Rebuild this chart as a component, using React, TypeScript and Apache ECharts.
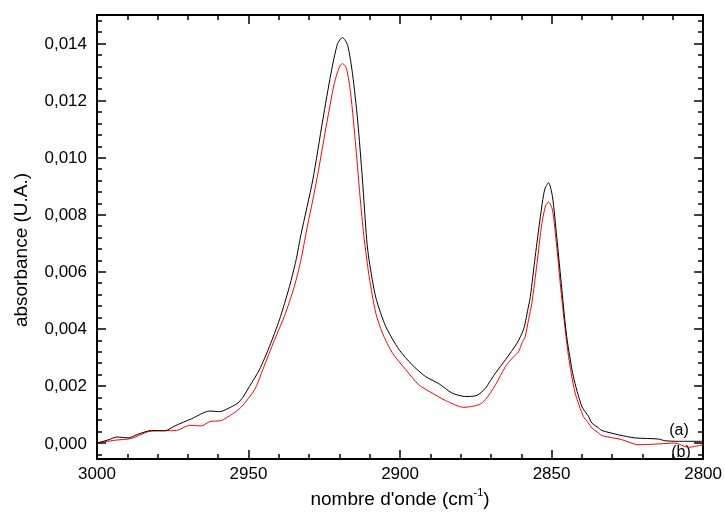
import React, { useEffect, useRef } from 'react';
import * as echarts from 'echarts';

// Spectrum (a) – black
const waveA = [3000, 2996, 2993.5, 2989.7, 2986.4, 2982, 2977.6, 2974.3, 2968.8, 2962.8, 2959.5, 2956, 2953.5, 2951.9, 2949.7, 2946.4, 2943.1, 2939.8, 2936.5, 2934.3, 2932.7, 2928.8, 2925.5, 2922.8, 2920.6, 2919, 2917.3, 2915.7, 2914, 2912.4, 2911, 2910.2, 2908, 2904.7, 2900.3, 2896, 2891.6, 2887.2, 2882.8, 2878.4, 2874.6, 2871.8, 2870.7, 2868.5, 2865.2, 2861.4, 2859.2, 2857.6, 2857, 2855.4, 2853.7, 2852.3, 2851, 2849.7, 2848.3, 2846.6, 2845, 2842.8, 2840, 2837.8, 2836.7, 2834.5, 2833.4, 2828, 2822.5, 2814.8, 2812.6, 2808.2, 2800];
const absA = [0, 0.00012, 0.00021, 0.00018, 0.00031, 0.00044, 0.00043, 0.0006, 0.00085, 0.00112, 0.0011, 0.00125, 0.0014, 0.0016, 0.00198, 0.00257, 0.00338, 0.00432, 0.00548, 0.00642, 0.0073, 0.00922, 0.01132, 0.01295, 0.014, 0.01421, 0.01394, 0.01295, 0.01132, 0.00922, 0.00712, 0.0064, 0.0051, 0.00408, 0.00327, 0.00274, 0.00233, 0.00208, 0.00175, 0.00163, 0.00167, 0.00192, 0.0021, 0.00245, 0.00292, 0.0035, 0.004, 0.0048, 0.00513, 0.00653, 0.00793, 0.00887, 0.00912, 0.00863, 0.00723, 0.00537, 0.00373, 0.00233, 0.00128, 0.00093, 0.0007, 0.00053, 0.00044, 0.00029, 0.00018, 0.00014, 0.00008, 0.00006, 0.00006];

// Spectrum (b) – red
const waveB = [3000, 2994, 2988.6, 2983, 2977.6, 2973.8, 2969.4, 2965.6, 2962.8, 2959, 2955.7, 2952.4, 2948, 2945.3, 2941.4, 2938.2, 2934.9, 2932.7, 2930.8, 2927.7, 2924.4, 2921.7, 2920, 2919, 2917.7, 2916.3, 2914.6, 2913, 2911.8, 2910.8, 2910.2, 2908, 2905.8, 2902.5, 2898.1, 2893.8, 2889.4, 2885, 2879, 2874, 2871.8, 2868.5, 2865.2, 2863, 2860.9, 2859.8, 2858.7, 2857.6, 2856.5, 2854.8, 2853.2, 2851.9, 2851, 2849.7, 2848.3, 2846.6, 2844.4, 2842.2, 2839.5, 2837.8, 2836.7, 2834.5, 2833.4, 2826.9, 2821.4, 2815.9, 2809.3, 2804.9, 2800];
const absB = [0, 0.0001, 0.00016, 0.0004, 0.00043, 0.00044, 0.00062, 0.0006, 0.00075, 0.00079, 0.00099, 0.00126, 0.00187, 0.00257, 0.00362, 0.00443, 0.00548, 0.00642, 0.00747, 0.0091, 0.01108, 0.0126, 0.01318, 0.0133, 0.01313, 0.01225, 0.01038, 0.0084, 0.00712, 0.0063, 0.00583, 0.00455, 0.00385, 0.00315, 0.00257, 0.00204, 0.00175, 0.00149, 0.00125, 0.00134, 0.00152, 0.00204, 0.00268, 0.00297, 0.0032, 0.0035, 0.00373, 0.00432, 0.0049, 0.0063, 0.0077, 0.00834, 0.00844, 0.00817, 0.00688, 0.00502, 0.00303, 0.00175, 0.00093, 0.0007, 0.00053, 0.00035, 0.00026, 0.00012, -0.00006, -0.00004, 0, -0.00015, -0.00006];

const yMajorTicks = [0, 0.002, 0.004, 0.006, 0.008, 0.010, 0.012, 0.014];
const yMinorTicks: number[] = [];
for (let k = -1; k <= 37; k++) if (k % 5 !== 0) yMinorTicks.push(+(k * 0.0004).toFixed(5));

const X_MIN = 2800, X_MAX = 3000;
const Y_MIN = -0.00056, Y_MAX = 0.015;

const FONT = '"Liberation Sans", Arial, sans-serif';

export default function App() {
  const ref = useRef<HTMLDivElement>(null);
  useEffect(() => {
    const chart = echarts.init(ref.current!, null, { renderer: 'svg' });
    const lineStyle = { color: '#000', width: 2 };
    const tickStyle = { color: '#000', width: 1.5 };
    const baseX = {
      type: 'value', min: X_MIN, max: X_MAX, inverse: true, interval: 50,
      axisLine: { show: true, onZero: false, lineStyle },
      axisTick: { show: true, inside: true, length: 9, lineStyle: tickStyle },
      minorTick: { show: true, splitNumber: 5, length: 5, lineStyle: tickStyle },
      splitLine: { show: false }, minorSplitLine: { show: false },
    };
    const yAx = (position: string, values: number[], len: number, labels: boolean, line: boolean) => ({
      type: 'value', min: Y_MIN, max: Y_MAX, position,
      axisLine: { show: line, onZero: false, lineStyle },
      axisTick: { show: true, inside: true, length: len, lineStyle: tickStyle, customValues: values },
      axisLabel: labels
        ? { show: true, customValues: values, margin: 10, fontSize: 17, color: '#000', fontFamily: FONT,
            formatter: (v: number) => v.toFixed(3).replace('.', ',') }
        : { show: false },
      splitLine: { show: false },
    });
    chart.setOption({
      animation: false,
      grid: { left: 97, right: 20, top: 15, bottom: 64, containLabel: false },
      xAxis: [
        {
          ...baseX, position: 'bottom',
          axisLabel: { show: true, margin: 6, fontSize: 17, color: '#000', fontFamily: FONT, formatter: (v: number) => String(v) },
          name: "nombre d'onde (cm{sup|-1})",
          nameLocation: 'middle', nameGap: 25,
          nameTextStyle: {
            fontSize: 19, color: '#000', fontFamily: FONT, lineHeight: 24,
            rich: { sup: { fontSize: 11, color: '#000', fontFamily: FONT, verticalAlign: 'top', lineHeight: 11 } },
          },
        },
        { ...baseX, position: 'top', axisLabel: { show: false } },
      ],
      yAxis: [
        yAx('left', yMajorTicks, 9, true, true),
        yAx('left', yMinorTicks, 5, false, false),
        yAx('right', yMajorTicks, 9, false, true),
        yAx('right', yMinorTicks, 5, false, false),
      ],
      series: [
        {
          type: 'line', name: '(b)', xAxisIndex: 0, yAxisIndex: 0,
          data: waveB.map((w, i) => [w, absB[i]]),
          showSymbol: false, smooth: 0.25, lineStyle: { color: '#ff0000', width: 1 }, z: 2,
        },
        {
          type: 'line', name: '(a)', xAxisIndex: 0, yAxisIndex: 0,
          data: waveA.map((w, i) => [w, absA[i]]),
          showSymbol: false, smooth: 0.25, lineStyle: { color: '#000', width: 1 }, z: 3,
        },
      ],
      graphic: [
        { type: 'text', x: 20, y: 250, rotation: Math.PI / 2,
          style: { text: 'absorbance (U.A.)', font: `19px ${FONT}`, fill: '#000', align: 'center', verticalAlign: 'middle' } },
        { type: 'text', x: 679, y: 429,
          style: { text: '(a)', font: `16px ${FONT}`, fill: '#000', align: 'center', verticalAlign: 'middle' } },
        { type: 'text', x: 681, y: 451.5,
          style: { text: '(b)', font: `16px ${FONT}`, fill: '#000', align: 'center', verticalAlign: 'middle' } },
      ],
    });
    return () => chart.dispose();
  }, []);
  return <div ref={ref} style={{ position: 'fixed', left: 0, top: 0, width: 725, height: 523 }} />;
}
